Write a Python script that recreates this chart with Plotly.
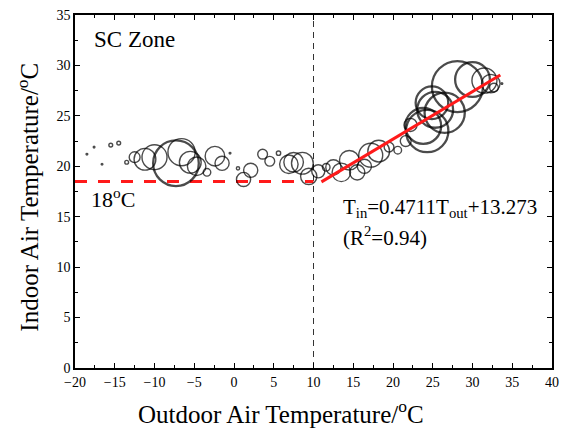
import plotly.graph_objects as go

# Bubble data: outdoor temperature, indoor temperature, relative frequency (bubble diameter)
out_temp = [-18.5, -17.6, -16.6, -15.5, -14.5, -13.5, -12.5, -11.2, -10.0, -7.3,
            -6.6, -5.5, -4.7, -3.4, -2.4, -1.5, -0.5, 0.5, 1.2, 2.1,
            3.6, 4.5, 5.6, 6.9, 7.5, 8.6, 9.4, 10.6, 11.6, 12.5,
            13.5, 14.5, 15.5, 16.4, 17.2, 18.2, 19.5, 20.6, 21.6, 22.2,
            23.8, 24.3, 24.9, 25.3, 26.5, 28.1, 30.0, 31.5, 32.3, 32.7, 33.7]
in_temp = [21.2, 21.9, 20.2, 22.1, 22.3, 20.4, 20.9, 20.7, 20.9, 20.3,
           21.4, 20.4, 20.0, 19.4, 21.0, 20.3, 21.3, 19.8, 18.7, 19.6,
           21.2, 20.5, 21.3, 20.2, 20.4, 20.3, 19.0, 19.5, 19.9, 19.9,
           19.4, 20.6, 19.4, 20.0, 21.1, 21.5, 21.9, 21.6, 22.5, 24.1,
           24.0, 23.5, 26.3, 25.6, 25.3, 27.9, 28.6, 28.5, 28.2, 27.8, 28.2]
frequency = [1.5, 1.5, 1.5, 3.5, 3.5, 3.5, 10, 20, 23, 42,
             25, 20, 17, 7, 18, 13, 1.5, 3, 13, 13,
             9, 9, 4, 17, 18, 20, 15, 12, 7, 14,
             17, 18, 14, 13, 22, 20, 9, 7, 10, 12,
             33, 39, 30, 33, 37, 47, 32, 23, 17, 8, 1.5]

# Regression: T_in = 0.4711 T_out + 13.273
slope, intercept = 0.4711, 13.273
fit_x = [11.0, 33.5]
fit_y = [slope * v + intercept for v in fit_x]

setpoint = 18.5
setpoint_x = [-20, 10]
threshold = 10

x_ticks = list(range(-20, 45, 5))
y_ticks = list(range(0, 40, 5))

FONT = "Liberation Serif"

fig = go.Figure()

fig.add_trace(go.Scatter(
    x=[threshold, threshold], y=[0, 35], mode="lines",
    line=dict(color="#333", width=1, dash="6px,5px"), hoverinfo="skip"))

fig.add_trace(go.Scatter(
    x=setpoint_x, y=[setpoint, setpoint], mode="lines",
    line=dict(color="#ff1a1a", width=3, dash="12px,11px"), hoverinfo="skip"))

fig.add_trace(go.Scatter(
    x=out_temp, y=in_temp, mode="markers",
    marker=dict(size=frequency, sizemode="diameter", sizeref=0.92,
                color="rgba(255,255,255,0)",
                line=dict(color="black",
                          width=[2.3 if f >= 30 else 1.4 for f in frequency])),
    hoverinfo="x+y"))

fig.add_trace(go.Scatter(
    x=fit_x, y=fit_y, mode="lines",
    line=dict(color="#ff1a1a", width=3), hoverinfo="skip"))

fig.add_annotation(x=-17.8, y=32.6, xref="x", yref="y", text="SC Zone",
                   showarrow=False, xanchor="left", yanchor="middle",
                   font=dict(family=FONT, size=23, color="black"))
fig.add_annotation(x=-18.2, y=16.9, xref="x", yref="y", text="18<sup>o</sup>C",
                   showarrow=False, xanchor="left", yanchor="middle",
                   font=dict(family=FONT, size=22, color="black"))
fig.add_annotation(x=13.4, y=15.9, xref="x", yref="y",
                   text="T<sub>in</sub>=0.4711T<sub>out</sub>+13.273",
                   showarrow=False, xanchor="left", yanchor="middle",
                   font=dict(family=FONT, size=21, color="black"))
fig.add_annotation(x=13.4, y=13.0, xref="x", yref="y",
                   text="(R<sup>2</sup>=0.94)",
                   showarrow=False, xanchor="left", yanchor="middle",
                   font=dict(family=FONT, size=21, color="black"))

# Axis titles as paper annotations for exact placement
fig.add_annotation(x=(284 - 75) / 484, y=-(412 - 368) / 353, xref="paper", yref="paper",
                   text="Outdoor Air Temperature/<sup>o</sup>C", showarrow=False,
                   xanchor="center", yanchor="middle",
                   font=dict(family=FONT, size=25, color="black"))
fig.add_annotation(x=-(75 - 27) / 484, y=(368 - 197) / 353, xref="paper", yref="paper",
                   text="Indoor Air Temperature/<sup>o</sup>C", showarrow=False,
                   textangle=-90, xanchor="center", yanchor="middle",
                   font=dict(family=FONT, size=25, color="black"))

axis_common = dict(
    showline=True, linecolor="black", linewidth=1.5, mirror="allticks",
    ticks="inside", ticklen=5, tickwidth=1, tickcolor="black",
    showgrid=False, zeroline=False,
    tickfont=dict(family=FONT, size=14, color="black"),
    minor=dict(ticks="inside", ticklen=3, tickwidth=1, tickcolor="black"),
)

fig.update_xaxes(range=[-20, 40], tickvals=x_ticks, minor_dtick=2.5, **axis_common)
fig.update_yaxes(range=[0, 35], tickvals=y_ticks, minor_dtick=2.5, **axis_common)

fig.update_layout(
    width=566, height=434,
    margin=dict(l=75, r=7, t=15, b=66),
    paper_bgcolor="white", plot_bgcolor="white",
    font=dict(family=FONT, color="black"),
    showlegend=False,
)

fig.write_html("out.html")
